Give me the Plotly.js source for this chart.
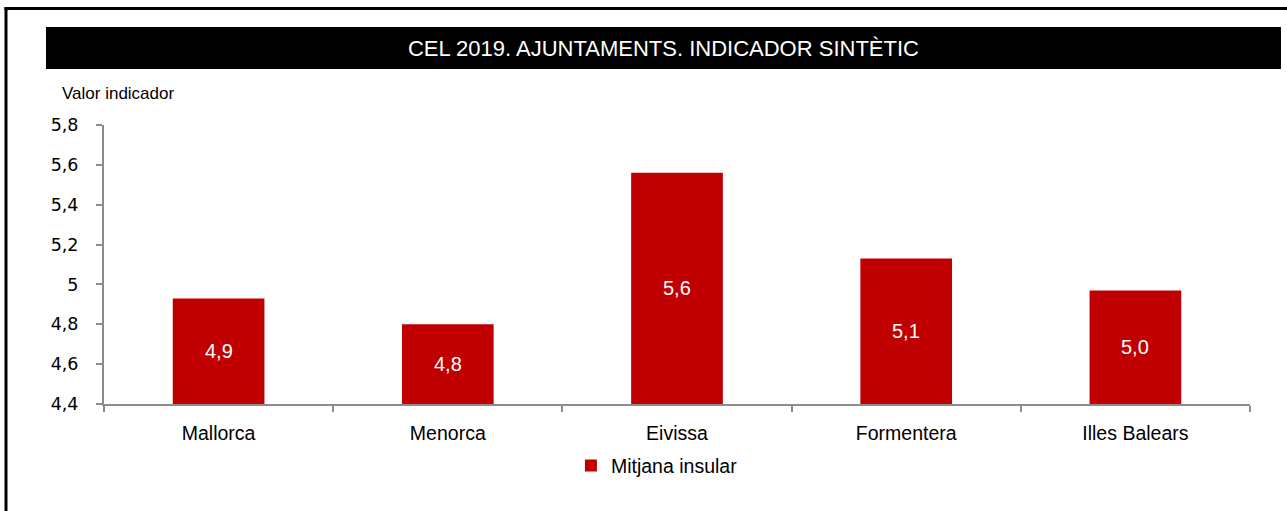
<!DOCTYPE html>
<html>
<head>
<meta charset="utf-8">
<script src="https://cdn.plot.ly/plotly-3.0.1.min.js"></script>
<style>
  html, body { margin: 0; padding: 0; background: #ffffff; }
  #chart { width: 1287px; height: 511px; }
</style>
</head>
<body>
<div id="chart"></div>
<script>
// ---- data ----
const categories = ['Mallorca', 'Menorca', 'Eivissa', 'Formentera', 'Illes Balears'];
const values = [4.93, 4.80, 5.56, 5.13, 4.97];
const seriesName = 'Mitjana insular';
const chartTitle = 'CEL 2019. AJUNTAMENTS. INDICADOR SINTÈTIC';
const yAxisLabel = 'Valor indicador';
const yMin = 4.4;
const yMax = 5.8;

const narrow = '"Liberation Sans Narrow", "Arial Narrow", "Liberation Sans", Arial, sans-serif';
const tickFont = '"DejaVu Sans", "Open Sans", sans-serif';
const axisGray = '#8c8c8c';
const barRed = '#c00000';

const trace = {
  type: 'bar',
  x: categories,
  y: values,
  name: seriesName,
  marker: { color: barRed, line: { width: 0 } },
  hoverinfo: 'x+y',
  showlegend: true
};

// value labels centred in the visible part of each bar
const valueLabels = categories.map((c, i) => ({
  text: values[i].toFixed(1).replace('.', ','),
  xref: 'x', yref: 'y',
  x: c, y: (values[i] + yMin) / 2,
  xanchor: 'center', yanchor: 'middle',
  showarrow: false,
  font: { family: narrow, size: 20, color: '#ffffff' }
}));

const layout = {
  width: 1287,
  height: 511,
  separators: ', ',
  paper_bgcolor: '#ffffff',
  plot_bgcolor: '#ffffff',
  margin: { l: 104, r: 37, t: 125, b: 107, pad: 0 },
  bargap: 0.6,
  title: {
    text: chartTitle,
    font: { family: narrow, size: 22, color: '#ffffff' },
    xref: 'container', yref: 'container',
    x: 0.5155, y: 0.9061, xanchor: 'center', yanchor: 'middle'
  },
  xaxis: {
    type: 'category',
    showgrid: false,
    showline: true,
    linecolor: axisGray,
    linewidth: 2,
    ticks: 'outside',
    tickson: 'boundaries',
    ticklen: 6,
    tickwidth: 2,
    tickcolor: axisGray,
    ticklabelstandoff: 11,
    tickfont: { family: narrow, size: 19.5, color: '#000000' },
    fixedrange: true
  },
  yaxis: {
    range: [yMin, yMax],
    tick0: yMin,
    dtick: 0.2,
    showgrid: false,
    zeroline: false,
    showline: true,
    linecolor: axisGray,
    linewidth: 2,
    ticks: 'outside',
    ticklen: 6,
    tickwidth: 2,
    tickcolor: axisGray,
    ticklabelstandoff: 14,
    tickfont: { family: tickFont, size: 17.5, color: '#000000' },
    fixedrange: true
  },
  showlegend: true,
  legend: {
    orientation: 'h',
    x: 0.4825, xanchor: 'center',
    y: -0.222, yanchor: 'middle',
    font: { family: narrow, size: 19.5, color: '#000000' },
    bgcolor: 'rgba(0,0,0,0)'
  },
  annotations: [{
    text: yAxisLabel,
    xref: 'paper', yref: 'paper',
    x: (60 - 104) / 1146, y: (404 - 93) / 279,
    xanchor: 'left', yanchor: 'middle',
    showarrow: false,
    font: { family: narrow, size: 17, color: '#000000' }
  }].concat(valueLabels),
  shapes: [
    { type: 'rect', layer: 'below', xref: 'paper', yref: 'paper',
      x0: (46 - 104) / 1146, x1: (1281 - 104) / 1146,
      y0: (404 - 69) / 279, y1: (404 - 27) / 279,
      fillcolor: '#000000', line: { width: 0 } },
    { type: 'line', layer: 'above', xref: 'paper', yref: 'paper',
      x0: (6 - 104) / 1146, x1: (6 - 104) / 1146,
      y0: (404 - 520) / 279, y1: (404 - 7) / 279,
      line: { color: '#000000', width: 3 } },
    { type: 'line', layer: 'above', xref: 'paper', yref: 'paper',
      x0: (4.5 - 104) / 1146, x1: (1295 - 104) / 1146,
      y0: (404 - 8.5) / 279, y1: (404 - 8.5) / 279,
      line: { color: '#000000', width: 3 } }
  ]
};

Plotly.newPlot('chart', [trace], layout, { displayModeBar: false, staticPlot: true });
</script>
</body>
</html>
